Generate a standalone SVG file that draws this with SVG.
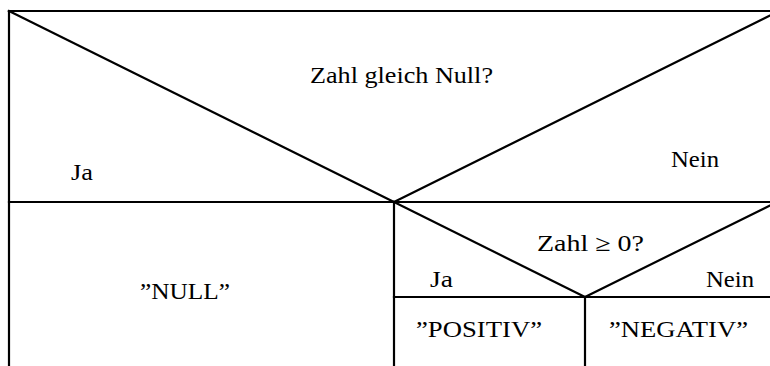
<svg xmlns="http://www.w3.org/2000/svg" width="770" height="366" viewBox="0 0 770 366">
<style>
.ln{stroke:#000;stroke-width:2.2;fill:none;stroke-linecap:square}
.t{font-family:'Liberation Serif','Times New Roman',serif;font-size:23px;fill:#000}
</style>
<rect width="770" height="366" fill="#fff"/>
<g id="decision-zahl-null">
<line class="ln" x1="9" y1="11" x2="779" y2="11"/>
<line class="ln" x1="9" y1="11" x2="9" y2="370"/>
<line class="ln" x1="9" y1="202" x2="779" y2="202"/>
<line class="ln" x1="9" y1="11" x2="394" y2="202"/>
<line class="ln" x1="394" y1="202" x2="779" y2="11"/>
<text class="t" x="310" y="83" textLength="183" lengthAdjust="spacingAndGlyphs">Zahl gleich Null?</text>
<text class="t" x="71" y="180" textLength="22" lengthAdjust="spacingAndGlyphs">Ja</text>
<text class="t" x="671" y="167" textLength="48" lengthAdjust="spacingAndGlyphs">Nein</text>
</g>
<g id="block-null">
<text class="t" x="140" y="299" textLength="90" lengthAdjust="spacingAndGlyphs">”NULL”</text>
</g>
<g id="decision-zahl-positiv">
<line class="ln" x1="394" y1="202" x2="394" y2="370"/>
<line class="ln" x1="394" y1="202" x2="585" y2="297"/>
<line class="ln" x1="585" y1="297" x2="779" y2="201"/>
<line class="ln" x1="394" y1="297" x2="779" y2="297"/>
<text class="t" x="537" y="251" textLength="107" lengthAdjust="spacingAndGlyphs">Zahl ≥ 0?</text>
<text class="t" x="430" y="287" textLength="23" lengthAdjust="spacingAndGlyphs">Ja</text>
<text class="t" x="706" y="287" textLength="48" lengthAdjust="spacingAndGlyphs">Nein</text>
</g>
<g id="block-positiv">
<text class="t" x="416" y="337" textLength="126" lengthAdjust="spacingAndGlyphs">”POSITIV”</text>
</g>
<g id="block-negativ">
<line class="ln" x1="585" y1="297" x2="585" y2="370"/>
<text class="t" x="609" y="337" textLength="139" lengthAdjust="spacingAndGlyphs">”NEGATIV”</text>
</g>
<g id="connectors"/>
</svg>
